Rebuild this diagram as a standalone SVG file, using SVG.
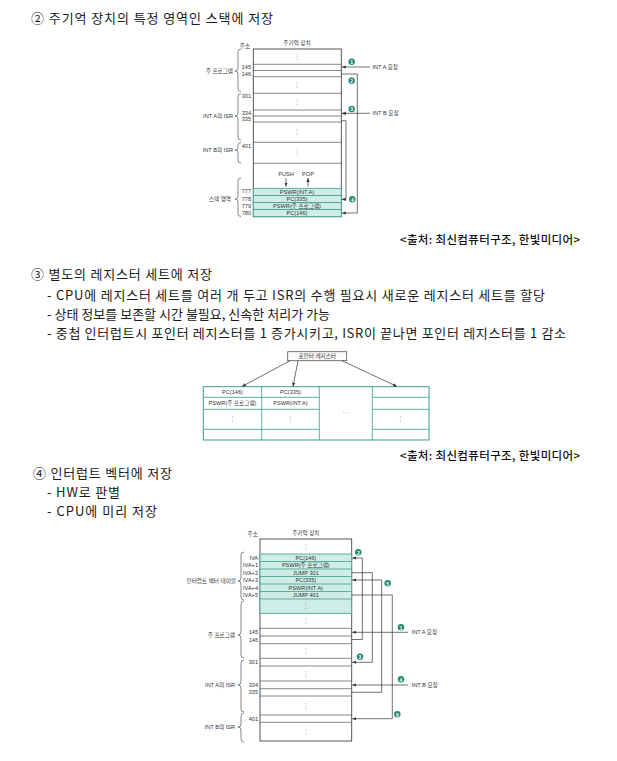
<svg xmlns="http://www.w3.org/2000/svg" width="617" height="761" viewBox="0 0 617 761">
<style>
.body{font-family:"Noto Sans CJK KR","Noto Sans",sans-serif;font-size:13px;fill:#1a1a1a}
.src{font-family:"Noto Sans CJK KR","Noto Sans",sans-serif;font-size:11.5px;fill:#111;font-weight:500}
.t{font-family:"Liberation Sans Narrow","Liberation Sans","Noto Sans CJK KR",sans-serif;font-size:5.6px;fill:#333;dominant-baseline:central}
.m{text-anchor:middle}
.e{text-anchor:end}
.dots{font-family:"DejaVu Sans",sans-serif;font-size:7px;fill:#888;text-anchor:middle;dominant-baseline:central}
.box{fill:#fff;stroke:#444;stroke-width:0.9}
.row{stroke:#555;stroke-width:0.7;fill:none}
.cy{fill:#cfede6;stroke:#3a9e8c;stroke-width:0.8}
.brace{fill:none;stroke:#555;stroke-width:0.7}
.con{fill:none;stroke:#333;stroke-width:0.7}
.num circle{fill:#1f8a70}
.num text{font-family:"Liberation Sans",sans-serif;font-size:5px;font-weight:bold;fill:#fff;text-anchor:middle;dominant-baseline:central}
.tbl{fill:#fff;stroke:#3a9e8c;stroke-width:1}
.tl{stroke:#3a9e8c;stroke-width:0.8}
</style>
<defs>
<marker id="ah" viewBox="0 0 10 10" refX="10" refY="5" markerWidth="4" markerHeight="4" markerUnits="userSpaceOnUse" orient="auto"><path d="M0,1 L10,5 L0,9 z" fill="#333"/></marker>
</defs>

<!-- texts -->
<g id="texts">
<text class="body" x="31" y="23" textLength="242" lengthAdjust="spacing">② 주기억 장치의 특정 영역인 스택에 저장</text>
<text class="src" x="400" y="244" textLength="180" lengthAdjust="spacing">&lt;출처: 최신컴퓨터구조, 한빛미디어&gt;</text>
<text class="body" x="31" y="279" textLength="181" lengthAdjust="spacing">③ 별도의 레지스터 세트에 저장</text>
<text class="body" x="47" y="300" textLength="498" lengthAdjust="spacing">- CPU에 레지스터 세트를 여러 개 두고 ISR의 수행 필요시 새로운 레지스터 세트를 할당</text>
<text class="body" x="47" y="319" textLength="283" lengthAdjust="spacing">- 상태 정보를 보존할 시간 불필요, 신속한 처리가 가능</text>
<text class="body" x="47" y="338" textLength="519" lengthAdjust="spacing">- 중첩 인터럽트시 포인터 레지스터를 1 증가시키고, ISR이 끝나면 포인터 레지스터를 1 감소</text>
<text class="src" x="400" y="460" textLength="180" lengthAdjust="spacing">&lt;출처: 최신컴퓨터구조, 한빛미디어&gt;</text>
<text class="body" x="33" y="478" textLength="139" lengthAdjust="spacing">④ 인터럽트 벡터에 저장</text>
<text class="body" x="47" y="497" textLength="73" lengthAdjust="spacing">- HW로 판별</text>
<text class="body" x="47" y="516" textLength="110" lengthAdjust="spacing">- CPU에 미리 저장</text>
</g>

<!-- ===== Top diagram: stack ===== -->
<g id="stack-memory">
<text class="t m" x="297" y="43">주기억 장치</text>
<text class="t m" x="245" y="45.5">주소</text>
<rect class="box" x="253.3" y="49" width="88" height="167.7"/>
<path class="row" d="M253.3,64.3H341.3 M253.3,70.5H341.3 M253.3,76.7H341.3 M253.3,93.3H341.3 M253.3,110H341.3 M253.3,116H341.3 M253.3,122H341.3 M253.3,142.3H341.3 M253.3,163.3H341.3"/>
<text class="dots" x="297" y="56.5">⋮</text>
<text class="dots" x="297" y="85">⋮</text>
<text class="dots" x="297" y="101.5">⋮</text>
<text class="dots" x="297" y="132">⋮</text>
<text class="dots" x="297" y="152.5">⋮</text>
<text class="t e" x="251" y="67">145</text>
<text class="t e" x="251" y="73.5">146</text>
<text class="t e" x="251" y="96">301</text>
<text class="t e" x="251" y="113">334</text>
<text class="t e" x="251" y="119">335</text>
<text class="t e" x="251" y="145.5">401</text>
</g>
<g id="stack-area">
<rect class="cy" x="253.3" y="188.3" width="88" height="7.1"/>
<rect class="cy" x="253.3" y="195.4" width="88" height="7.1"/>
<rect class="cy" x="253.3" y="202.5" width="88" height="7.1"/>
<rect class="cy" x="253.3" y="209.6" width="88" height="7.1"/>
<text class="t m" x="297" y="192">PSWR(INT A)</text>
<text class="t m" x="297" y="199">PC(335)</text>
<text class="t m" x="297" y="206">PSWR(주 프로그램)</text>
<text class="t m" x="297" y="213.2">PC(146)</text>
<text class="t e" x="251" y="191">777</text>
<text class="t e" x="251" y="198.5">778</text>
<text class="t e" x="251" y="205.5">779</text>
<text class="t e" x="251" y="213">780</text>
<text class="t m" x="286" y="173.5">PUSH</text>
<text class="t m" x="308" y="173.5">POP</text>
<path class="con" d="M286,178V186.5" marker-end="url(#ah)"/>
<path class="con" d="M308,186.5V178" marker-end="url(#ah)"/>
</g>
<g id="top-labels">
<path class="brace" d="M241,49 Q238,49 238,52 L238,68 Q238,71 235,71 Q238,71 238,74 L238,88.5 Q238,91.5 241,91.5"/>
<text class="t e" x="233" y="71">주 프로그램</text>
<path class="brace" d="M241,93.5 Q238,93.5 238,96.5 L238,113 Q238,116 235,116 Q238,116 238,119 L238,137 Q238,140 241,140"/>
<text class="t e" x="233" y="116">INT A의 ISR</text>
<path class="brace" d="M241,142.5 Q238,142.5 238,145.5 L238,147 Q238,150 235,150 Q238,150 238,153 L238,160 Q238,163 241,163"/>
<text class="t e" x="233" y="150">INT B의 ISR</text>
<path class="brace" d="M241,178 Q238,178 238,181 L238,196 Q238,199 235,199 Q238,199 238,202 L238,213.5 Q238,216.5 241,216.5"/>
<text class="t e" x="231" y="199">스택 영역</text>
</g>
<g id="top-connectors">
<path class="con" d="M370,67H341.8" marker-end="url(#ah)"/>
<path class="con" d="M341.3,74H357.3V213H341.8" marker-end="url(#ah)"/>
<path class="con" d="M370,113.3H341.8" marker-end="url(#ah)"/>
<path class="con" d="M341.3,120.7H346V199.3H341.8" marker-end="url(#ah)"/>
<text class="t" x="372.5" y="67">INT A 요청</text>
<text class="t" x="372.5" y="113.3">INT B 요청</text>
<g class="num"><circle cx="351.7" cy="61.7" r="3.2"/><text x="351.7" y="61.9">1</text></g>
<g class="num"><circle cx="351.7" cy="80.7" r="3.2"/><text x="351.7" y="80.9">2</text></g>
<g class="num"><circle cx="351.7" cy="109" r="3.2"/><text x="351.7" y="109.2">3</text></g>
<g class="num"><circle cx="352.3" cy="199.3" r="3.2"/><text x="352.3" y="199.5">4</text></g>
</g>

<!-- ===== Register set ===== -->
<g id="pointer-register">
<rect x="287.7" y="351.7" width="59" height="9" fill="#fafafa" stroke="#555" stroke-width="0.8"/>
<text class="t m" x="317.2" y="356.3">포인터 레지스터</text>
</g>
<g id="register-sets">
<rect class="tbl" x="203.3" y="386.7" width="225.7" height="53.3"/>
<path class="tl" d="M261.7,386.7V440 M319.3,386.7V440 M372.3,386.7V440 M203.3,397.3H319.3 M203.3,409.3H319.3 M203.3,429.3H319.3 M372.3,397.3H429 M372.3,409.3H429 M372.3,429.3H429"/>
<text class="t m" x="232.5" y="392">PC(146)</text>
<text class="t m" x="232.5" y="403.3">PSWR(주 프로그램)</text>
<text class="dots" x="232.5" y="419">⋮</text>
<text class="t m" x="290.5" y="392">PC(335)</text>
<text class="t m" x="290.5" y="403.3">PSWR(INT A)</text>
<text class="dots" x="290.5" y="419">⋮</text>
<text class="dots" x="345.8" y="413">⋯</text>
<text class="dots" x="400.6" y="419">⋮</text>
</g>
<g id="register-connectors">
<path class="con" d="M290,360.7L242,386.5" marker-end="url(#ah)"/>
<path class="con" d="M298,360.7L293,386.5" marker-end="url(#ah)"/>
<path class="con" d="M342,360.7L397,386.5" marker-end="url(#ah)"/>
</g>

<!-- ===== Bottom diagram: interrupt vector ===== -->
<g id="vector-memory">
<text class="t m" x="305.8" y="533">주기억 장치</text>
<text class="t m" x="252.7" y="533.5">주소</text>
<rect class="box" x="260" y="539" width="91.7" height="202"/>
<rect class="cy" x="260" y="554" width="91.7" height="59.3"/>
<path class="tl" d="M260,561.5H351.7 M260,569H351.7 M260,576.5H351.7 M260,584H351.7 M260,591.5H351.7 M260,599H351.7"/>
<path class="row" d="M260,628.3H351.7 M260,636H351.7 M260,643.7H351.7 M260,658.3H351.7 M260,666H351.7 M260,681H351.7 M260,688.7H351.7 M260,696H351.7 M260,715H351.7 M260,722.3H351.7"/>
<text class="t m" x="305.8" y="557.8">PC(146)</text>
<text class="t m" x="305.8" y="565.3">PSWR(주 프로그램)</text>
<text class="t m" x="305.8" y="572.8">JUMP 301</text>
<text class="t m" x="305.8" y="580.3">PC(335)</text>
<text class="t m" x="305.8" y="587.8">PSWR(INT A)</text>
<text class="t m" x="305.8" y="595.3">JUMP 401</text>
<text class="dots" x="305.8" y="546.5">⋮</text>
<text class="dots" x="305.8" y="606">⋮</text>
<text class="dots" x="305.8" y="620.8">⋮</text>
<text class="dots" x="305.8" y="651">⋮</text>
<text class="dots" x="305.8" y="673.5">⋮</text>
<text class="dots" x="305.8" y="705.5">⋮</text>
<text class="dots" x="305.8" y="731.5">⋮</text>
<text class="t e" x="258" y="557.8">IVA</text>
<text class="t e" x="258" y="565.3">IVA+1</text>
<text class="t e" x="258" y="572.8">IVA+2</text>
<text class="t e" x="258" y="580.3">IVA+3</text>
<text class="t e" x="258" y="587.8">IVA+4</text>
<text class="t e" x="258" y="595.3">IVA+5</text>
<text class="t e" x="258" y="632">145</text>
<text class="t e" x="258" y="640">146</text>
<text class="t e" x="258" y="662">301</text>
<text class="t e" x="258" y="685">334</text>
<text class="t e" x="258" y="692.3">335</text>
<text class="t e" x="258" y="718.5">401</text>
</g>
<g id="bottom-labels">
<path class="brace" d="M244,552 Q241,552 241,555 L241,578 Q241,581 238,581 Q241,581 241,584 L241,597 Q241,600 244,600"/>
<text class="t e" x="236" y="581">인터럽트 벡터 테이블</text>
<path class="brace" d="M244,601 Q241,601 241,604 L241,632 Q241,635 238,635 Q241,635 241,638 L241,655 Q241,658 244,658"/>
<text class="t e" x="235" y="635">주 프로그램</text>
<path class="brace" d="M244,660 Q241,660 241,663 L241,682 Q241,685 238,685 Q241,685 241,688 L241,709 Q241,712 244,712"/>
<text class="t e" x="235" y="685">INT A의 ISR</text>
<path class="brace" d="M244,713 Q241,713 241,716 L241,724 Q241,727 238,727 Q241,727 241,730 L241,739 Q241,742 244,742"/>
<text class="t e" x="235" y="727">INT B의 ISR</text>
</g>
<g id="bottom-connectors">
<path class="con" d="M408,632.3H352.2" marker-end="url(#ah)"/>
<path class="con" d="M351.7,639.5H362.3V558H352.2" marker-end="url(#ah)"/>
<path class="con" d="M351.7,572.7H372.3V662.3H352.2" marker-end="url(#ah)"/>
<path class="con" d="M408,685H352.2" marker-end="url(#ah)"/>
<path class="con" d="M351.7,692.3H381.7V580H352.2" marker-end="url(#ah)"/>
<path class="con" d="M351.7,595H392.3V718.7H352.2" marker-end="url(#ah)"/>
<text class="t" x="411.7" y="632.3">INT A 요청</text>
<text class="t" x="411.7" y="685">INT B 요청</text>
<g class="num"><circle cx="401" cy="627.3" r="3.2"/><text x="401" y="627.5">1</text></g>
<g class="num"><circle cx="358.3" cy="552.3" r="3.2"/><text x="358.3" y="552.5">2</text></g>
<g class="num"><circle cx="360" cy="656.7" r="3.2"/><text x="360" y="656.9">3</text></g>
<g class="num"><circle cx="401" cy="679.3" r="3.2"/><text x="401" y="679.5">4</text></g>
<g class="num"><circle cx="387.7" cy="583.3" r="3.2"/><text x="387.7" y="583.5">5</text></g>
<g class="num"><circle cx="397.3" cy="714.3" r="3.2"/><text x="397.3" y="714.5">6</text></g>
</g>
</svg>
